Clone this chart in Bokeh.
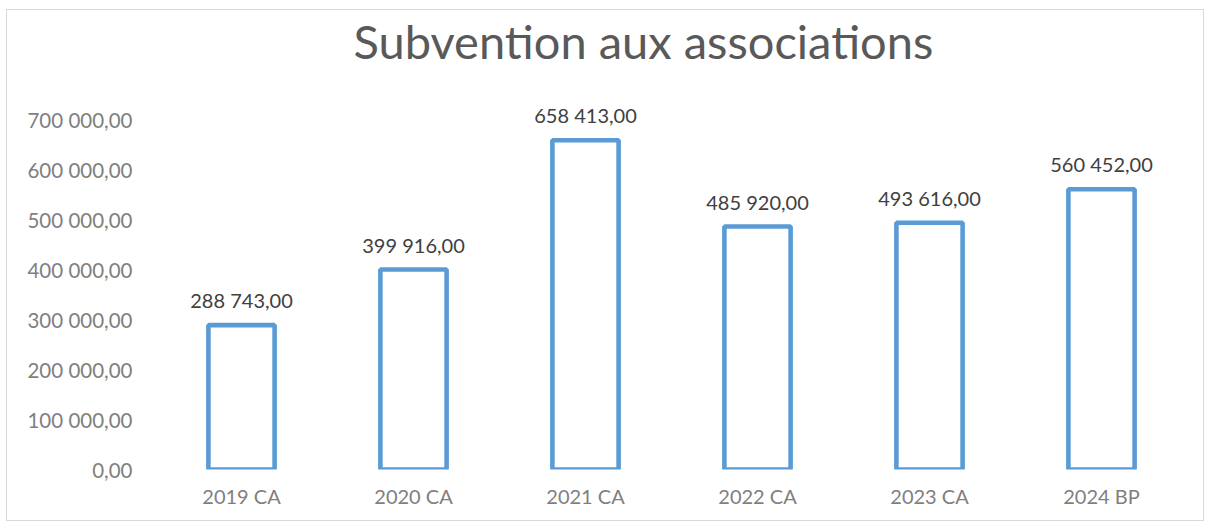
from bokeh.plotting import figure
from bokeh.models import ColumnDataSource, LabelSet, FixedTicker, Range1d, FactorRange
from bokeh.core.properties import value
from bokeh.embed import file_html
from bokeh.resources import INLINE

categories = ["2019 CA", "2020 CA", "2021 CA", "2022 CA", "2023 CA", "2024 BP"]
values = [288743.00, 399916.00, 658413.00, 485920.00, 493616.00, 560452.00]
value_labels = ["288 743,00", "399 916,00", "658 413,00", "485 920,00", "493 616,00", "560 452,00"]
tick_values = [0, 100000, 200000, 300000, 400000, 500000, 600000, 700000]
tick_labels = ["0,00", "100 000,00", "200 000,00", "300 000,00", "400 000,00",
               "500 000,00", "600 000,00", "700 000,00"]

FONT = "Lato"

source = ColumnDataSource(data=dict(cat=categories, val=values, lab=value_labels))

p = figure(
    width=1198, height=512,
    x_range=FactorRange(*categories, range_padding=0),
    y_range=Range1d(0, 802000),
    output_backend="svg", toolbar_location=None,
    min_border_left=148, min_border_right=18,
    min_border_top=10, min_border_bottom=53,
)
p.styles = {"border": "1px solid #d9d9d9", "margin-top": "9px", "margin-left": "6px"}

p.title.text = "Subvention aux associations"
p.title.align = "left"
p.title.text_font = FONT
p.title.text_font_size = "47px"
p.title.text_font_style = "normal"
p.title.text_color = "#595959"
p.title.offset = 198
p.title.standoff = 0

p.vbar(x="cat", top="val", width=0.385, bottom=0, source=source,
       fill_color="white", line_color="#5b9bd5", line_width=4.6)

labels = LabelSet(x="cat", y="val", text="lab", source=source,
                  text_align="center", text_baseline="alphabetic",
                  y_offset=17, text_font=value(FONT), text_font_size=value("20px"),
                  text_color=value("#404040"))
p.add_layout(labels)

p.outline_line_color = None
p.xgrid.grid_line_color = None
p.ygrid.grid_line_color = None
p.background_fill_color = "white"
p.border_fill_color = "white"

ya = p.yaxis[0]
ya.ticker = FixedTicker(ticks=tick_values)
ya.major_label_overrides = {v: l for v, l in zip(tick_values, tick_labels)}
ya.axis_line_color = None
ya.major_tick_line_color = None
ya.minor_tick_line_color = None
ya.major_label_standoff = 17
ya.major_label_text_font = FONT
ya.major_label_text_font_size = "20.5px"
ya.major_label_text_color = "#7f7f7f"

xa = p.xaxis[0]
xa.axis_line_color = None
xa.major_tick_line_color = None
xa.minor_tick_line_color = None
xa.major_label_standoff = 8
xa.major_label_text_font = FONT
xa.major_label_text_font_size = "20px"
xa.major_label_text_color = "#7f7f7f"

open("out.html", "w").write(file_html(p, INLINE))
